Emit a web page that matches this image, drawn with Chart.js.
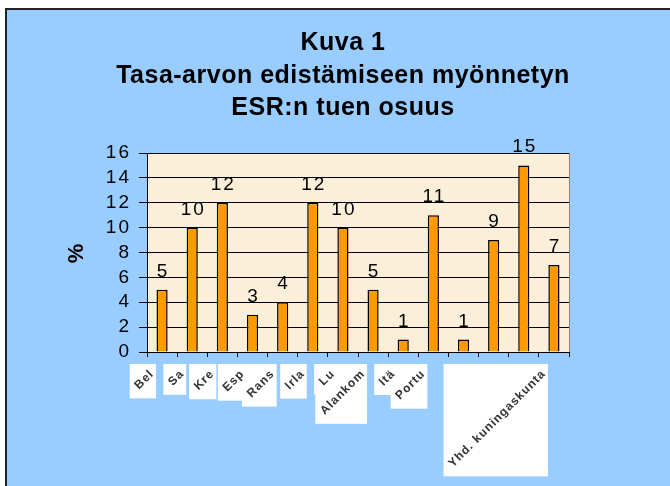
<!DOCTYPE html>
<html><head><meta charset="utf-8">
<script src="https://cdn.jsdelivr.net/npm/chart.js@4"></script>
<style>html,body{margin:0;padding:0;background:#fff;overflow:hidden}canvas{display:block}</style>
</head><body>
<canvas id="c" width="670" height="486"></canvas>
<script>
// ---- data ----
const categories = ["Belgia","Saksa","Kreikka","Espanja","Ranska","Irlanti","Luxemburg","Alankomaat","Itävalta","Portugali","Suomi","Ruotsi","Tanska","Yhd. kuningaskunta"];
const tickLabels = ["Bel","Sa","Kre","Esp","Rans","Irla","Lu","Alankom","Itä","Portu","","","","Yhd. kuningaskunta"];
const values = [5,10,12,3,4,12,10,5,1,11,1,9,15,7];
const yTickValues = [0,2,4,6,8,10,12,14,16];
const titleLines = ["Kuva 1","Tasa-arvon edistämiseen myönnetyn","ESR:n tuen osuus"];
const yAxisTitle = "%";

const FONT = '"Liberation Sans", Arial, sans-serif';

const bgPlugin = {
  id: 'bgPlugin',
  beforeDraw(chart) {
    const ctx = chart.ctx, W = chart.width, H = chart.height;
    ctx.save();
    ctx.fillStyle = '#ffffff'; ctx.fillRect(0, 0, W, H);
    ctx.fillStyle = '#99CCFF'; ctx.fillRect(6, 9, W - 6, H - 9);
    ctx.strokeStyle = '#222'; ctx.lineWidth = 2;
    ctx.beginPath(); ctx.moveTo(6, H); ctx.lineTo(6, 9); ctx.lineTo(W, 9); ctx.stroke();
    const a = chart.chartArea;
    ctx.fillStyle = '#FCEFD9'; ctx.fillRect(a.left, a.top, a.right - a.left, a.bottom - a.top);
    // title (3 centred lines)
    ctx.fillStyle = '#000';
    ctx.font = 'bold 25px ' + FONT;
    ctx.letterSpacing = '0.5px';
    ctx.textAlign = 'center'; ctx.textBaseline = 'alphabetic';
    const tx = (chart.chartArea.left + chart.chartArea.right) / 2 - 15;
    titleLines.forEach((t, i) => ctx.fillText(t, tx, 50 + i * 32.5));
    ctx.restore();
    ctx.letterSpacing = '2px';
  },
  afterDatasetsDraw(chart) {
    const ctx = chart.ctx, a = chart.chartArea;
    ctx.save();
    ctx.strokeStyle = '#888'; ctx.lineWidth = 1;
    ctx.beginPath(); ctx.moveTo(a.right + 0.5, a.top); ctx.lineTo(a.right + 0.5, a.bottom); ctx.stroke();
    // value labels
    ctx.fillStyle = '#000';
    ctx.font = '19px ' + FONT;
    ctx.letterSpacing = '2px';
    ctx.textAlign = 'center'; ctx.textBaseline = 'alphabetic';
    const meta = chart.getDatasetMeta(0);
    meta.data.forEach((bar, i) => {
      ctx.fillText(String(values[i]), bar.x + 1, bar.y - 13);
    });
    ctx.restore();
  },
  afterDraw(chart) {
    const ctx = chart.ctx, xs = chart.scales.x;
    ctx.save();
    ctx.font = 'bold 12px ' + FONT;
    ctx.letterSpacing = '1px';
    const top = xs.top + 12;
    const items = [];
    tickLabels.forEach((s, i) => {
      if (!s) return;
      const cx = xs.getPixelForValue(i);
      const w = ctx.measureText(s).width;
      const d = w * Math.SQRT1_2;
      items.push({ s, ax: cx - 10, ay: top + 8, d });
    });
    ctx.fillStyle = '#fff';
    items.forEach(it => ctx.fillRect(it.ax - it.d - 7, top, it.d + 11, it.d + 19));
    items.forEach(it => {
      ctx.save();
      ctx.translate(it.ax, it.ay);
      ctx.rotate(-Math.PI / 4);
      ctx.fillStyle = '#333';
      ctx.textAlign = 'right'; ctx.textBaseline = 'middle';
      ctx.fillText(it.s, 0, 0);
      ctx.restore();
    });
    ctx.restore();
  }
};

new Chart(document.getElementById('c'), {
  type: 'bar',
  data: {
    labels: categories,
    datasets: [{
      data: values,
      backgroundColor: '#FF9900',
      borderColor: '#000',
      borderWidth: 1.5,
      barPercentage: 0.37,
      categoryPercentage: 1
    }]
  },
  options: {
    responsive: false,
    animation: false,
    devicePixelRatio: 1,
    layout: { padding: { left: 60, right: 101, top: 153, bottom: 0 } },
    plugins: {
      legend: { display: false },
      tooltip: { enabled: false },
      title: { display: false, text: titleLines }
    },
    scales: {
      x: {
        grid: { display: true, drawOnChartArea: false, drawTicks: true, tickLength: 5, color: '#000', offset: true },
        border: { display: true, color: '#000', width: 1 },
        ticks: { display: false },
        afterFit(s) { s.height = 134; }
      },
      y: {
        min: 0, max: 16,
        afterBuildTicks(s) { s.ticks = yTickValues.map(v => ({ value: v })); },
        grid: { color: '#000', lineWidth: 1, drawTicks: true, tickLength: 8 },
        border: { display: true, color: '#000', width: 1 },
        ticks: { color: '#000', padding: 8, autoSkip: false, font: { family: FONT, size: 19 } },
        title: {
          display: true, text: yAxisTitle, color: '#000',
          font: { family: FONT, size: 22, weight: 'bold', lineHeight: 1.2 },
          padding: { top: 4, bottom: 0 }
        },
        afterFit(s) { s.width = 87; }
      }
    }
  },
  plugins: [bgPlugin]
});
</script>
</body></html>
